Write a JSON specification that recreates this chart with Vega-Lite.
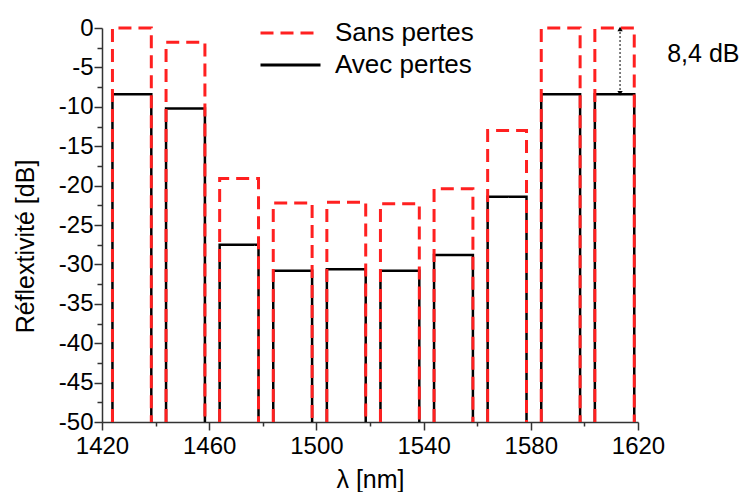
{
  "$schema": "https://vega.github.io/schema/vega-lite/v6.json",
  "autosize": {"type": "none"},
  "padding": {"left": 102, "top": 28, "right": 107, "bottom": 70},
  "width": 536,
  "height": 394,
  "background": "white",
  "config": {
    "font": "Liberation Sans",
    "view": {"stroke": null},
    "axis": {
      "grid": false,
      "labelFlush": false,
      "labelOverlap": false,
      "domainColor": "#333333",
      "domainWidth": 1.5,
      "tickColor": "#333333",
      "tickWidth": 1.5,
      "labelColor": "#000000",
      "titleColor": "#000000",
      "labelFont": "Liberation Sans",
      "titleFont": "Liberation Sans",
      "titleFontWeight": "normal"
    },
    "legend": {
      "labelFont": "Liberation Sans",
      "labelFontSize": 26,
      "labelColor": "#000000"
    }
  },
  "datasets": {
    "spectre": [
      {"s": "Avec pertes", "b": 1, "o": 1, "x": 1423.9, "y": -50},
      {"s": "Avec pertes", "b": 1, "o": 2, "x": 1423.9, "y": -8.4},
      {"s": "Avec pertes", "b": 1, "o": 3, "x": 1438.4, "y": -8.4},
      {"s": "Avec pertes", "b": 1, "o": 4, "x": 1438.4, "y": -50},
      {"s": "Avec pertes", "b": 2, "o": 1, "x": 1443.9, "y": -50},
      {"s": "Avec pertes", "b": 2, "o": 2, "x": 1443.9, "y": -10.2},
      {"s": "Avec pertes", "b": 2, "o": 3, "x": 1458.4, "y": -10.2},
      {"s": "Avec pertes", "b": 2, "o": 4, "x": 1458.4, "y": -50},
      {"s": "Avec pertes", "b": 3, "o": 1, "x": 1463.9, "y": -50},
      {"s": "Avec pertes", "b": 3, "o": 2, "x": 1463.9, "y": -27.5},
      {"s": "Avec pertes", "b": 3, "o": 3, "x": 1478.4, "y": -27.5},
      {"s": "Avec pertes", "b": 3, "o": 4, "x": 1478.4, "y": -50},
      {"s": "Avec pertes", "b": 4, "o": 1, "x": 1483.9, "y": -50},
      {"s": "Avec pertes", "b": 4, "o": 2, "x": 1483.9, "y": -30.8},
      {"s": "Avec pertes", "b": 4, "o": 3, "x": 1498.4, "y": -30.8},
      {"s": "Avec pertes", "b": 4, "o": 4, "x": 1498.4, "y": -50},
      {"s": "Avec pertes", "b": 5, "o": 1, "x": 1503.9, "y": -50},
      {"s": "Avec pertes", "b": 5, "o": 2, "x": 1503.9, "y": -30.6},
      {"s": "Avec pertes", "b": 5, "o": 3, "x": 1518.4, "y": -30.6},
      {"s": "Avec pertes", "b": 5, "o": 4, "x": 1518.4, "y": -50},
      {"s": "Avec pertes", "b": 6, "o": 1, "x": 1523.9, "y": -50},
      {"s": "Avec pertes", "b": 6, "o": 2, "x": 1523.9, "y": -30.8},
      {"s": "Avec pertes", "b": 6, "o": 3, "x": 1538.4, "y": -30.8},
      {"s": "Avec pertes", "b": 6, "o": 4, "x": 1538.4, "y": -50},
      {"s": "Avec pertes", "b": 7, "o": 1, "x": 1543.9, "y": -50},
      {"s": "Avec pertes", "b": 7, "o": 2, "x": 1543.9, "y": -28.8},
      {"s": "Avec pertes", "b": 7, "o": 3, "x": 1558.4, "y": -28.8},
      {"s": "Avec pertes", "b": 7, "o": 4, "x": 1558.4, "y": -50},
      {"s": "Avec pertes", "b": 8, "o": 1, "x": 1563.9, "y": -50},
      {"s": "Avec pertes", "b": 8, "o": 2, "x": 1563.9, "y": -21.4},
      {"s": "Avec pertes", "b": 8, "o": 3, "x": 1578.4, "y": -21.4},
      {"s": "Avec pertes", "b": 8, "o": 4, "x": 1578.4, "y": -50},
      {"s": "Avec pertes", "b": 9, "o": 1, "x": 1583.9, "y": -50},
      {"s": "Avec pertes", "b": 9, "o": 2, "x": 1583.9, "y": -8.4},
      {"s": "Avec pertes", "b": 9, "o": 3, "x": 1598.4, "y": -8.4},
      {"s": "Avec pertes", "b": 9, "o": 4, "x": 1598.4, "y": -50},
      {"s": "Avec pertes", "b": 10, "o": 1, "x": 1603.9, "y": -50},
      {"s": "Avec pertes", "b": 10, "o": 2, "x": 1603.9, "y": -8.4},
      {"s": "Avec pertes", "b": 10, "o": 3, "x": 1618.6, "y": -8.4},
      {"s": "Avec pertes", "b": 10, "o": 4, "x": 1618.6, "y": -50},
      {"s": "Sans pertes", "b": 1, "o": 1, "x": 1423.9, "y": -50},
      {"s": "Sans pertes", "b": 1, "o": 2, "x": 1423.9, "y": 0},
      {"s": "Sans pertes", "b": 1, "o": 3, "x": 1438.4, "y": 0},
      {"s": "Sans pertes", "b": 1, "o": 4, "x": 1438.4, "y": -50},
      {"s": "Sans pertes", "b": 2, "o": 1, "x": 1443.9, "y": -50},
      {"s": "Sans pertes", "b": 2, "o": 2, "x": 1443.9, "y": -1.8},
      {"s": "Sans pertes", "b": 2, "o": 3, "x": 1458.4, "y": -1.8},
      {"s": "Sans pertes", "b": 2, "o": 4, "x": 1458.4, "y": -50},
      {"s": "Sans pertes", "b": 3, "o": 1, "x": 1463.9, "y": -50},
      {"s": "Sans pertes", "b": 3, "o": 2, "x": 1463.9, "y": -19.1},
      {"s": "Sans pertes", "b": 3, "o": 3, "x": 1478.4, "y": -19.1},
      {"s": "Sans pertes", "b": 3, "o": 4, "x": 1478.4, "y": -50},
      {"s": "Sans pertes", "b": 4, "o": 1, "x": 1483.9, "y": -50},
      {"s": "Sans pertes", "b": 4, "o": 2, "x": 1483.9, "y": -22.2},
      {"s": "Sans pertes", "b": 4, "o": 3, "x": 1498.4, "y": -22.2},
      {"s": "Sans pertes", "b": 4, "o": 4, "x": 1498.4, "y": -50},
      {"s": "Sans pertes", "b": 5, "o": 1, "x": 1503.9, "y": -50},
      {"s": "Sans pertes", "b": 5, "o": 2, "x": 1503.9, "y": -22.1},
      {"s": "Sans pertes", "b": 5, "o": 3, "x": 1518.4, "y": -22.1},
      {"s": "Sans pertes", "b": 5, "o": 4, "x": 1518.4, "y": -50},
      {"s": "Sans pertes", "b": 6, "o": 1, "x": 1523.9, "y": -50},
      {"s": "Sans pertes", "b": 6, "o": 2, "x": 1523.9, "y": -22.3},
      {"s": "Sans pertes", "b": 6, "o": 3, "x": 1538.4, "y": -22.3},
      {"s": "Sans pertes", "b": 6, "o": 4, "x": 1538.4, "y": -50},
      {"s": "Sans pertes", "b": 7, "o": 1, "x": 1543.9, "y": -50},
      {"s": "Sans pertes", "b": 7, "o": 2, "x": 1543.9, "y": -20.4},
      {"s": "Sans pertes", "b": 7, "o": 3, "x": 1558.4, "y": -20.4},
      {"s": "Sans pertes", "b": 7, "o": 4, "x": 1558.4, "y": -50},
      {"s": "Sans pertes", "b": 8, "o": 1, "x": 1563.9, "y": -50},
      {"s": "Sans pertes", "b": 8, "o": 2, "x": 1563.9, "y": -13.0},
      {"s": "Sans pertes", "b": 8, "o": 3, "x": 1578.4, "y": -13.0},
      {"s": "Sans pertes", "b": 8, "o": 4, "x": 1578.4, "y": -50},
      {"s": "Sans pertes", "b": 9, "o": 1, "x": 1583.9, "y": -50},
      {"s": "Sans pertes", "b": 9, "o": 2, "x": 1583.9, "y": 0},
      {"s": "Sans pertes", "b": 9, "o": 3, "x": 1598.4, "y": 0},
      {"s": "Sans pertes", "b": 9, "o": 4, "x": 1598.4, "y": -50},
      {"s": "Sans pertes", "b": 10, "o": 1, "x": 1603.9, "y": -50},
      {"s": "Sans pertes", "b": 10, "o": 2, "x": 1603.9, "y": 0},
      {"s": "Sans pertes", "b": 10, "o": 3, "x": 1618.6, "y": 0},
      {"s": "Sans pertes", "b": 10, "o": 4, "x": 1618.6, "y": -50}
    ],
    "ecart": [
      {"x": 1613.3, "y": 0, "y2": -8.4, "label": "8,4 dB", "lx": 1630.9, "ly": -3.3}
    ]
  },
  "resolve": {"axis": {"x": "independent", "y": "independent"}},
  "layer": [
    {
      "data": {"name": "spectre"},
      "transform": [{"filter": "datum.s === 'Avec pertes'"}],
      "mark": {"type": "line", "strokeWidth": 2.5, "strokeCap": "butt", "strokeJoin": "miter"},
      "encoding": {
        "x": {
          "field": "x", "type": "quantitative",
          "scale": {"domain": [1420, 1620], "nice": false, "zero": false},
          "axis": {
            "orient": "bottom",
            "values": [1420, 1460, 1500, 1540, 1580, 1620],
            "labelExpr": "'' + datum.value",
            "labelFlush": false,
            "tickSize": 8,
            "labelFontSize": 24,
            "labelPadding": 4,
            "title": "λ [nm]",
            "titleFontSize": 25,
            "titlePadding": 9
          }
        },
        "y": {
          "field": "y", "type": "quantitative",
          "scale": {"domain": [-50, 0], "nice": false, "zero": false},
          "axis": {
            "orient": "left",
            "values": [-50, -45, -40, -35, -30, -25, -20, -15, -10, -5, 0],
            "labelExpr": "'' + datum.value",
            "labelFlush": false,
            "tickSize": 8,
            "labelFontSize": 24,
            "labelPadding": 1,
            "title": "Réflextivité [dB]",
            "titleFontSize": 25,
            "titlePadding": 20,
            "titleY": 218
          }
        },
        "detail": {"field": "b", "type": "nominal"},
        "order": {"field": "o", "type": "quantitative"},
        "color": {
          "field": "s", "type": "nominal",
          "scale": {"domain": ["Sans pertes", "Avec pertes"], "range": ["#ff2020", "#000000"]},
          "legend": {
            "title": null,
            "orient": "none",
            "legendX": 157,
            "legendY": -11,
            "symbolType": "stroke",
            "symbolSize": 3600,
            "symbolStrokeWidth": 3,
            "clipHeight": 32,
            "rowPadding": 0,
            "labelOffset": 13
          }
        },
        "strokeDash": {
          "field": "s", "type": "nominal",
          "scale": {"domain": ["Sans pertes", "Avec pertes"], "range": [[13, 7], [1, 0]]},
          "legend": {
            "title": null,
            "orient": "none",
            "legendX": 157,
            "legendY": -11,
            "symbolType": "stroke",
            "symbolSize": 3600,
            "symbolStrokeWidth": 3,
            "clipHeight": 32,
            "rowPadding": 0,
            "labelOffset": 13
          }
        }
      }
    },
    {
      "data": {"name": "spectre"},
      "transform": [{"filter": "datum.s === 'Sans pertes'"}],
      "mark": {"type": "line", "strokeWidth": 3, "strokeCap": "butt", "strokeJoin": "miter"},
      "encoding": {
        "x": {
          "field": "x", "type": "quantitative",
          "axis": {
            "orient": "bottom",
            "values": [1440, 1480, 1520, 1560, 1600],
            "tickSize": 4,
            "labels": false,
            "domain": false,
            "title": null
          }
        },
        "y": {
          "field": "y", "type": "quantitative",
          "axis": {
            "orient": "left",
            "values": [-47.5, -42.5, -37.5, -32.5, -27.5, -22.5, -17.5, -12.5, -7.5, -2.5],
            "tickSize": 5,
            "labels": false,
            "domain": false,
            "title": null
          }
        },
        "detail": {"field": "b", "type": "nominal"},
        "order": {"field": "o", "type": "quantitative"},
        "color": {"field": "s", "type": "nominal"},
        "strokeDash": {"field": "s", "type": "nominal"}
      }
    },
    {
      "data": {"name": "ecart"},
      "mark": {"type": "rule", "color": "#000000", "strokeWidth": 1, "strokeDash": [2, 2]},
      "encoding": {
        "x": {"field": "x", "type": "quantitative", "axis": null},
        "y": {"field": "y", "type": "quantitative", "axis": null},
        "y2": {"field": "y2"}
      }
    },
    {
      "data": {"name": "ecart"},
      "mark": {"type": "point", "shape": "triangle-up", "filled": true, "color": "#000000", "opacity": 1, "size": 28, "yOffset": 1},
      "encoding": {
        "x": {"field": "x", "type": "quantitative", "axis": null},
        "y": {"field": "y", "type": "quantitative", "axis": null}
      }
    },
    {
      "data": {"name": "ecart"},
      "mark": {"type": "point", "shape": "triangle-down", "filled": true, "color": "#000000", "opacity": 1, "size": 28, "yOffset": -1},
      "encoding": {
        "x": {"field": "x", "type": "quantitative", "axis": null},
        "y": {"field": "y2", "type": "quantitative", "axis": null}
      }
    },
    {
      "data": {"name": "ecart"},
      "mark": {"type": "text", "align": "left", "baseline": "middle", "fontSize": 25, "color": "#000000", "font": "Liberation Sans"},
      "encoding": {
        "x": {"field": "lx", "type": "quantitative", "axis": null},
        "y": {"field": "ly", "type": "quantitative", "axis": null},
        "text": {"field": "label"}
      }
    }
  ]
}
